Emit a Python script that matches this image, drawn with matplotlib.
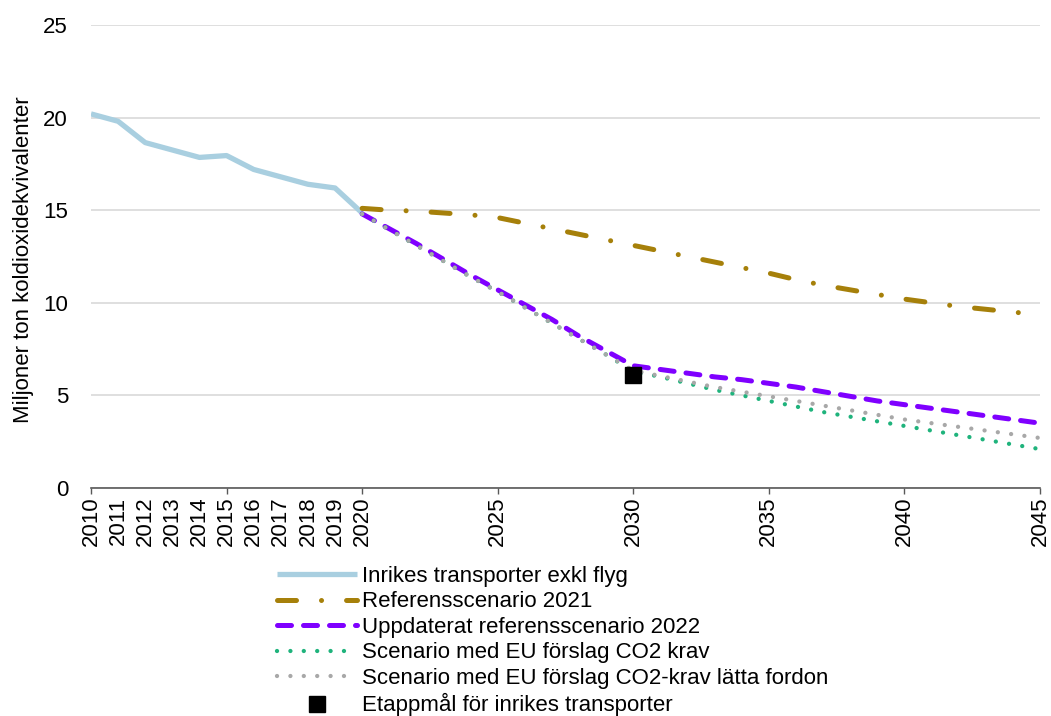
import matplotlib
matplotlib.use('Agg')
import matplotlib.pyplot as plt
from matplotlib.ticker import FixedLocator, FixedFormatter

plt.rcParams['font.family'] = ['Liberation Sans', 'DejaVu Sans']

# historical data
hist_years = list(range(2010, 2021))
hist_vals = [20.2, 19.8, 18.65, 18.25, 17.85, 17.95, 17.2, 16.8, 16.4, 16.2, 14.85]

# scenarios 2020-2045
scen_years = list(range(2020, 2046))
ref2021 = [15.1, 15.0, 14.95, 14.85, 14.75, 14.6, 14.3, 14.0, 13.7, 13.4, 13.1,
           12.8, 12.5, 12.2, 11.9, 11.6, 11.25, 10.95, 10.7, 10.45, 10.2,
           10.0, 9.8, 9.65, 9.5, 9.35]
ref2022 = [14.8, 14.0, 13.2, 12.35, 11.5, 10.7, 9.9, 9.1, 8.2, 7.4, 6.6,
           6.4, 6.2, 6.0, 5.85, 5.65, 5.45, 5.2, 4.95, 4.7, 4.5,
           4.3, 4.1, 3.9, 3.7, 3.5]
eu_co2 = [14.8, 13.95, 13.1, 12.25, 11.4, 10.6, 9.75, 8.9, 8.05, 7.2, 6.3,
          6.0, 5.65, 5.3, 5.0, 4.7, 4.4, 4.1, 3.85, 3.6, 3.35,
          3.1, 2.85, 2.6, 2.35, 2.1]
eu_light = [14.8, 13.95, 13.1, 12.25, 11.4, 10.6, 9.75, 8.9, 8.05, 7.2, 6.35,
            6.05, 5.75, 5.45, 5.2, 4.95, 4.7, 4.45, 4.2, 3.95, 3.7,
            3.5, 3.3, 3.1, 2.9, 2.7]
target_year = [2030]
target_val = [6.1]

labels = ['Inrikes transporter exkl flyg', 'Referensscenario 2021',
          'Uppdaterat referensscenario 2022', 'Scenario med EU förslag CO2 krav',
          'Scenario med EU förslag CO2-krav lätta fordon',
          'Etappmål för inrikes transporter']

fig = plt.figure(figsize=(10.51, 7.16), dpi=100)
ax = fig.add_axes([91/1051, 1-488/716, 949/1051, 463/716])

ax.plot(hist_years, hist_vals, color='#a9cfe0', lw=3.8, solid_capstyle='butt',
        label=labels[0], zorder=3)
ax.plot(scen_years, ref2021, color='#a6800a', lw=3.6, dashes=(3.8, 5, 0.01, 5),
        dash_capstyle='round', label=labels[1], zorder=3)
ax.plot(scen_years, ref2022, color='#7f00ff', lw=3.6, dashes=(2.8, 2.4),
        dash_capstyle='round', label=labels[2], zorder=3)
ax.plot(scen_years, eu_co2, color='#1fb37c', lw=3.1, dashes=(0.01, 3.1),
        dash_capstyle='round', label=labels[3], zorder=4)
ax.plot(scen_years, eu_light, color='#a8a8a8', lw=3.1, dashes=(0.01, 3.1),
        dash_capstyle='round', label=labels[4], zorder=4)
ax.plot(target_year, target_val, 's', color='black', ms=11, ls='none',
        label=labels[5], zorder=5)

ax.set_xlim(2010, 2045)
ax.set_ylim(0, 25)
ax.set_yticks([0, 5, 10, 15, 20, 25])
ax.grid(axis='y', color='#d9d9d9', lw=1.2)
ax.set_axisbelow(True)

major = [2010, 2015, 2020, 2025, 2030, 2035, 2040, 2045]
minor = [2011, 2012, 2013, 2014, 2016, 2017, 2018, 2019]
ax.xaxis.set_major_locator(FixedLocator(major))
ax.xaxis.set_major_formatter(FixedFormatter([str(y) for y in major]))
ax.xaxis.set_minor_locator(FixedLocator(minor))
ax.xaxis.set_minor_formatter(FixedFormatter([str(y) for y in minor]))
ax.tick_params(axis='x', which='major', length=4.3, width=1, color='#595959',
               labelsize=16, labelrotation=90, pad=2)
ax.tick_params(axis='x', which='minor', length=0, labelsize=16, labelrotation=90, pad=6.3)
ax.tick_params(axis='y', length=0, labelsize=16, pad=16.5)

for s in ['top', 'right', 'left']:
    ax.spines[s].set_visible(False)
ax.spines['bottom'].set_color('#595959')
ax.spines['bottom'].set_linewidth(1.2)

fig.text(24/1051, 1-260/716, 'Miljoner ton koldioxidekvivalenter', rotation=90,
         fontsize=16, ha='center', va='center')

fig.legend(loc='upper left', bbox_to_anchor=(277/1051, 1-566/716), frameon=False,
           fontsize=16, handlelength=3.6, handletextpad=0.22, borderpad=0,
           borderaxespad=0, labelspacing=0.2)

plt.savefig('out.png', dpi=100)
